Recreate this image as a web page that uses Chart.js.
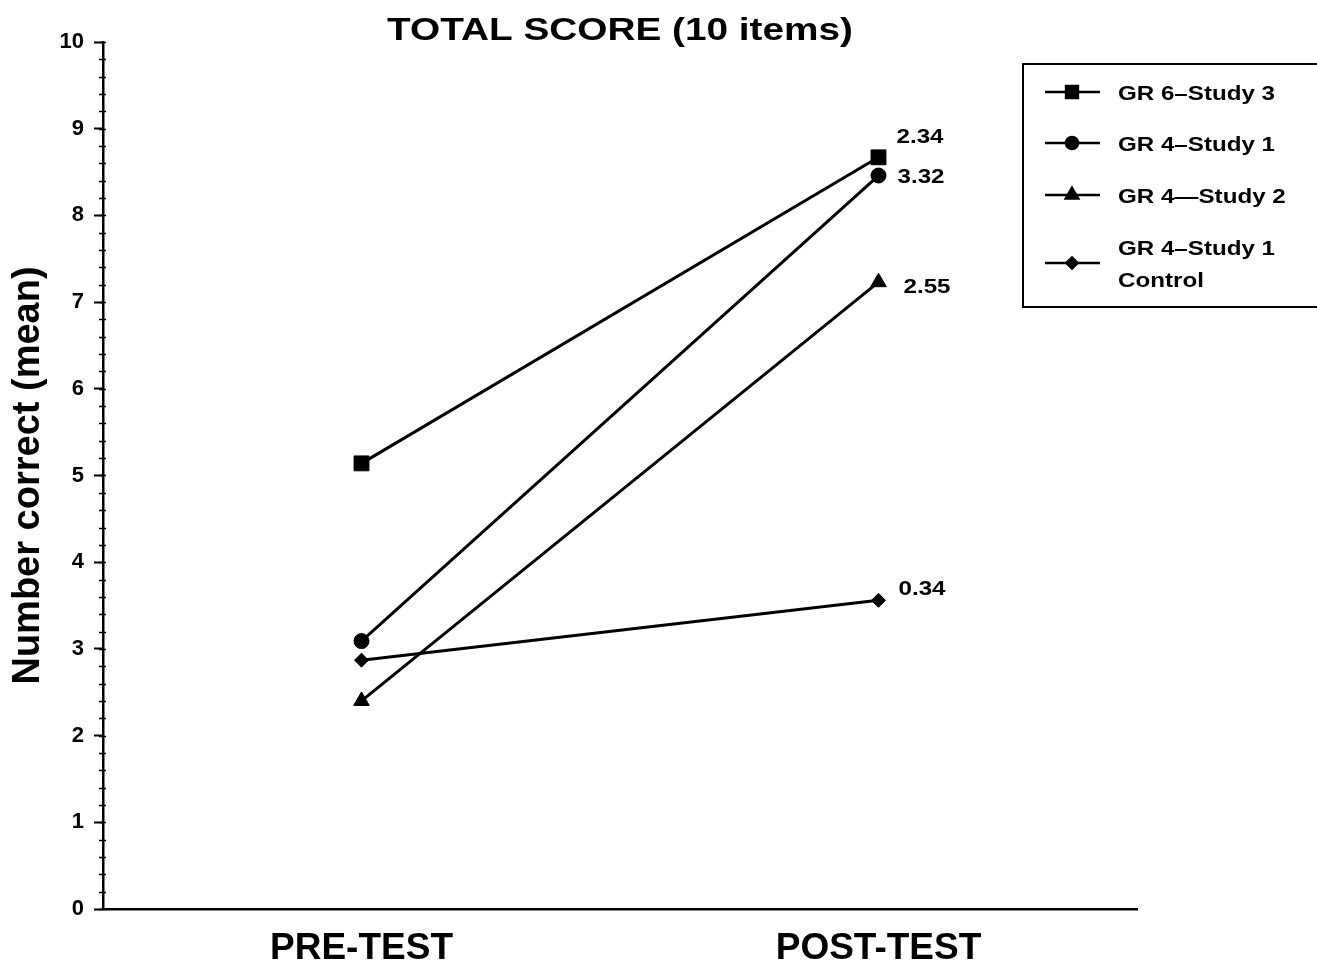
<!DOCTYPE html>
<html>
<head>
<meta charset="utf-8">
<script src="https://cdn.jsdelivr.net/npm/chart.js@4/dist/chart.umd.min.js"></script>
<style>
  html, body { margin: 0; padding: 0; background: #fff; }
  canvas { display: block; }
</style>
</head>
<body>
<canvas id="chart" width="1317" height="966"></canvas>
<script>
// values
const categories = ['PRE-TEST', 'POST-TEST'];
const seriesNames = ['GR 6\u2013Study 3', 'GR 4\u2013Study 1', 'GR 4\u2014Study 2', 'GR 4\u2013Study 1\nControl'];
const gr6Study3 = [5.14, 8.67];
const gr4Study1 = [3.09, 8.46];
const gr4Study2 = [2.40, 7.23];
const gr4Study1Control = [2.87, 3.56];
const gainLabels = ['2.34', '3.32', '2.55', '0.34'];
const yMin = 0, yMax = 10, yStep = 1, yMinorStep = 0.2;

const FONT = '"Liberation Sans", Arial, sans-serif';
const markers = ['rect', 'circle', 'triangle', 'rectRot'];
const markerSize = [10.5, 7.5, 9, 7];
const gainOffsets = [[18, -14], [19, 7], [25, 11], [20, -5]]; // label nudges, px

// bold text stretched sideways, the scan's typeface is wider than Arial
function wideText(ctx, text, x, y, size, stretch, align) {
  ctx.save();
  ctx.font = 'bold ' + size + 'px ' + FONT;
  ctx.fillStyle = '#000';
  ctx.textBaseline = 'alphabetic';
  ctx.textAlign = 'left';
  const w = ctx.measureText(text).width * stretch;
  const x0 = align === 'center' ? x - w / 2 : x;
  ctx.translate(x0, y);
  ctx.scale(stretch, 1);
  ctx.fillText(text, 0, 0);
  ctx.restore();
}

const extras = {
  id: 'extras',
  afterDraw(chart) {
    const ctx = chart.ctx;
    const area = chart.chartArea;
    const xs = chart.scales.x, ys = chart.scales.y;

    // minor ticks on the y axis
    ctx.save();
    ctx.strokeStyle = '#000';
    ctx.lineWidth = 1.5;
    for (let v = yMin; v <= yMax + 1e-9; v += yMinorStep) {
      const py = Math.round(ys.getPixelForValue(v)) + 0.5;
      ctx.beginPath();
      ctx.moveTo(area.left - 4, py);
      ctx.lineTo(area.left + 3, py);
      ctx.stroke();
    }
    ctx.restore();

    // title
    wideText(ctx, 'TOTAL SCORE (10 items)', (area.left + area.right) / 2, 40, 31, 1.25, 'center');

    // gain labels next to the post-test points
    chart.data.datasets.forEach((ds, i) => {
      const px = xs.getPixelForValue(1) + gainOffsets[i][0];
      const py = ys.getPixelForValue(ds.data[1]) + gainOffsets[i][1];
      wideText(ctx, gainLabels[i], px, py, 21, 1.15, 'left');
    });

    // legend box
    ctx.save();
    ctx.strokeStyle = '#000';
    ctx.lineWidth = 2;
    ctx.strokeRect(1023, 64, 300, 243);
    const rowY = [92, 143, 195, 263];
    seriesNames.forEach((name, i) => {
      const y = rowY[i];
      ctx.strokeStyle = '#000';
      ctx.fillStyle = '#000';
      ctx.lineWidth = 2.5;
      ctx.beginPath();
      ctx.moveTo(1045, y);
      ctx.lineTo(1100, y);
      ctx.stroke();
      Chart.helpers.drawPoint(ctx, {
        pointStyle: markers[i],
        radius: markerSize[i] * 0.8,
        rotation: 0,
        borderWidth: 1
      }, 1072, y);
      const lines = name.split('\n');
      const lh = 32;
      const top = y - (lines.length - 1) * lh / 2;
      lines.forEach((t, k) => wideText(ctx, t, 1118, top + k * lh + 7.5, 21, 1.15, 'left'));
    });
    ctx.restore();
  }
};

function makeSet(label, data, i) {
  return {
    label: label,
    data: data,
    borderColor: '#000',
    backgroundColor: '#000',
    borderWidth: 3,
    pointStyle: markers[i],
    pointRadius: markerSize[i],
    pointBorderWidth: 1,
    pointBackgroundColor: '#000',
    pointBorderColor: '#000',
    tension: 0
  };
}

new Chart(document.getElementById('chart').getContext('2d'), {
  type: 'line',
  data: {
    labels: categories,
    datasets: [
      makeSet(seriesNames[0], gr6Study3, 0),
      makeSet(seriesNames[1], gr4Study1, 1),
      makeSet(seriesNames[2], gr4Study2, 2),
      makeSet(seriesNames[3], gr4Study1Control, 3)
    ]
  },
  options: {
    responsive: false,
    animation: false,
    layout: { padding: { top: 42, right: 180, left: 0, bottom: 0 } },
    plugins: {
      legend: { display: false },
      title: { display: false },
      tooltip: { enabled: false }
    },
    scales: {
      x: {
        offset: true,
        afterFit(scale) { scale.height = 57; },
        grid: { display: true, drawOnChartArea: false, tickLength: 6, tickColor: 'rgba(0,0,0,0)' },
        border: { display: true, color: '#000', width: 2.5 },
        ticks: { color: '#000', padding: 12, font: { family: FONT, size: 37, weight: 'bold' } }
      },
      y: {
        min: yMin,
        max: yMax,
        afterFit(scale) { scale.width = 103; },
        grid: { display: true, drawOnChartArea: false, tickLength: 9, tickWidth: 2, tickColor: '#000' },
        border: { display: true, color: '#000', width: 2.5 },
        ticks: { stepSize: yStep, color: '#000', padding: 10, font: { family: FONT, size: 22, weight: 'bold' } },
        title: {
          display: true,
          text: 'Number correct (mean)',
          color: '#000',
          padding: { top: 6, bottom: 0 },
          font: { family: FONT, size: 38, weight: 'bold' }
        }
      }
    }
  },
  plugins: [extras]
});
</script>
</body>
</html>
